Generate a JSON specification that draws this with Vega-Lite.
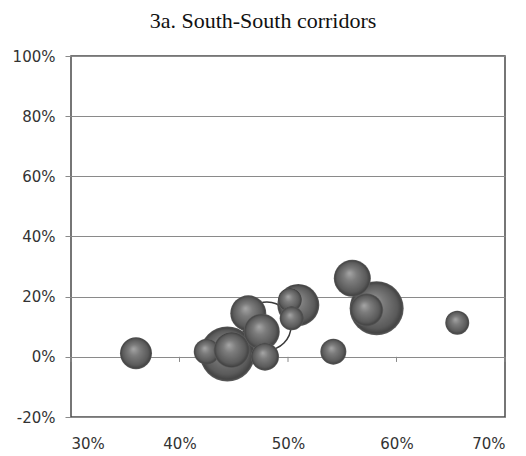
{
  "$schema": "https://vega.github.io/schema/vega-lite/v6.json",
  "width": 434,
  "height": 361,
  "autosize": "none",
  "padding": {"left": 71, "top": 56, "right": 21, "bottom": 39},
  "background": "white",
  "title": {
    "text": "3a. South-South corridors",
    "font": "Liberation Serif",
    "fontSize": 22,
    "fontWeight": "normal",
    "color": "#111111",
    "anchor": "middle",
    "frame": "group",
    "dx": -25,
    "baseline": "alphabetic",
    "offset": -1
  },
  "config": {
    "view": {"stroke": "#4a4a4a", "strokeWidth": 1.5},
    "axis": {
      "labelFont": "DejaVu Sans",
      "labelFontSize": 15,
      "labelColor": "#333333",
      "gridColor": "#8a8a8a",
      "gridWidth": 1,
      "tickColor": "#8a8a8a",
      "tickWidth": 1
    }
  },
  "datasets": {
    "bubbles": [
      {"kind": "ring", "x": 0.4806, "y": 0.1025, "size": 76.2},
      {"kind": "solid", "x": 0.4441, "y": 0.0094, "size": 100},
      {"kind": "solid", "x": 0.5817, "y": 0.1614, "size": 96.4},
      {"kind": "solid", "x": 0.5095, "y": 0.1723, "size": 58.3},
      {"kind": "solid", "x": 0.4634, "y": 0.1447, "size": 42.8},
      {"kind": "solid", "x": 0.4758, "y": 0.0836, "size": 42.8},
      {"kind": "solid", "x": 0.3599, "y": 0.0118, "size": 33.9},
      {"kind": "solid", "x": 0.4251, "y": 0.0171, "size": 22.3},
      {"kind": "solid", "x": 0.4481, "y": 0.0227, "size": 42.8},
      {"kind": "solid", "x": 0.4788, "y": 0.0005, "size": 25.9},
      {"kind": "solid", "x": 0.5018, "y": 0.189, "size": 19.0},
      {"kind": "solid", "x": 0.5034, "y": 0.128, "size": 19.0},
      {"kind": "solid", "x": 0.5593, "y": 0.2611, "size": 45.3},
      {"kind": "solid", "x": 0.5725, "y": 0.1557, "size": 36.0},
      {"kind": "solid", "x": 0.656, "y": 0.1135, "size": 19.0},
      {"kind": "solid", "x": 0.5418, "y": 0.0171, "size": 22.3}
    ],
    "ticks": [
      {"x": 0.3}, {"x": 0.4}, {"x": 0.5}, {"x": 0.6}, {"x": 0.7}
    ]
  },
  "encoding": {
    "x": {
      "field": "x",
      "type": "quantitative",
      "scale": {"domain": [0.3, 0.7], "nice": false, "zero": false},
      "axis": {
        "format": ".0%",
        "values": [0.3, 0.4, 0.5, 0.6, 0.7],
        "grid": false,
        "ticks": false,
        "domain": false,
        "labelPadding": 19,
        "title": null
      }
    }
  },
  "layer": [
    {
      "data": {"name": "ticks"},
      "mark": {"type": "rule", "color": "#8a8a8a", "strokeWidth": 1},
      "encoding": {
        "y": {
          "datum": 0,
          "type": "quantitative",
          "scale": {"domain": [-0.2, 1.0], "nice": false, "zero": false},
          "axis": {
            "format": ".0%",
            "labelExpr": "replace(datum.label, '−', '-')",
            "values": [-0.2, 0, 0.2, 0.4, 0.6, 0.8, 1.0],
            "grid": true,
            "tickSize": 6,
            "labelPadding": 10,
            "domain": false,
            "title": null
          }
        },
        "y2": {"datum": -0.017}
      }
    },
    {
      "data": {"name": "bubbles"},
      "transform": [{"filter": "datum.kind === 'ring'"}],
      "mark": {"type": "point", "shape": "circle", "filled": false, "stroke": "#3a3a3a", "strokeWidth": 1.5, "opacity": 1},
      "encoding": {
        "y": {"field": "y", "type": "quantitative"},
        "size": {
          "field": "size",
          "type": "quantitative",
          "scale": {"type": "linear", "domain": [0, 100], "range": [0, 3025], "zero": true},
          "legend": null
        }
      }
    },
    {
      "data": {"name": "bubbles"},
      "transform": [{"filter": "datum.kind === 'solid'"}],
      "mark": {
        "type": "circle",
        "opacity": 1,
        "stroke": null,
        "fill": {
          "gradient": "radial",
          "x1": 0.42, "y1": 0.36, "r1": 0,
          "x2": 0.5, "y2": 0.5, "r2": 0.5,
          "stops": [
            {"offset": 0, "color": "#a6a6a6"},
            {"offset": 0.35, "color": "#7c7c7c"},
            {"offset": 0.8, "color": "#5a5a5a"},
            {"offset": 0.94, "color": "#434343"},
            {"offset": 1, "color": "#626262"}
          ]
        }
      },
      "encoding": {
        "y": {"field": "y", "type": "quantitative"},
        "size": {"field": "size", "type": "quantitative"}
      }
    }
  ]
}
